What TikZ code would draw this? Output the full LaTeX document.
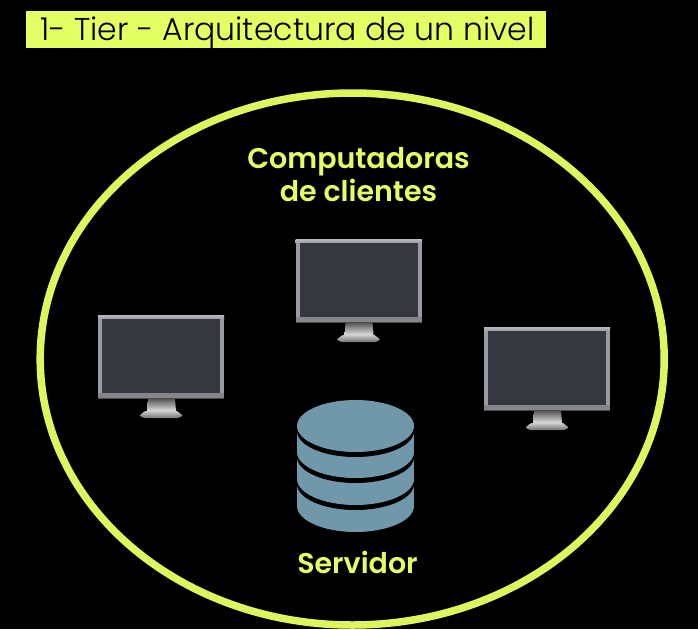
\documentclass[tikz,border=0pt]{standalone}
\usepackage{fontspec}
\setmainfont{Poppins}
\newfontfamily\titlefont{Poppins Light}
\newfontfamily\labelfont{Poppins SemiBold}
\definecolor{lime}{HTML}{E3FF63}
\definecolor{ringlime}{HTML}{DDF65E}
\definecolor{dbblue}{HTML}{7197AB}
\definecolor{screengray}{HTML}{36383F}
\definecolor{silvertop}{HTML}{B9B9C0}
\definecolor{silverside}{HTML}{9A9AA2}
\definecolor{silverlow}{HTML}{85858B}
\tikzset{
  titlebox/.style={fill=lime,draw=none,anchor=west,minimum height=37pt,minimum width=520pt,inner sep=0pt},
  titletext/.style={text=black,font=\titlefont\fontsize{31.5}{34}\selectfont,anchor=base west,inner sep=0pt},
  limetext/.style={text=lime,font=\labelfont\fontsize{28.5}{32}\selectfont,inner sep=0pt,anchor=base},
  ring/.style={draw=ringlime,line width=7.5pt},
  pics/monitor/.style={code={
    \shade[top color=black!65!white,bottom color=black!12!white] (50,84) -- (77,84) -- (78,96) -- (49,96) -- cycle;
    \shade[top color=black!20!white,bottom color=black!55!white] (47,96) -- (79,96) -- (84,100) -- (84,101) [rounded corners=1pt] -- (80,103) -- (46,103) -- (42,101) -- (42,100) -- cycle;
    \fill[silverside] (0,0) rectangle (126,84);
    \shade[top color=silvertop,bottom color=silverside] (0,0) rectangle (126,4);
    \fill[silverlow] (0,78) rectangle (126,83);
    \fill[black!70!white] (0,83) rectangle (126,84);
    \fill[screengray] (4,4) rectangle (122,78);
  }}
}
\begin{document}
\begin{tikzpicture}[x=1pt,y=-1pt]
  \useasboundingbox (0,0) rectangle (698,629);
  \fill[black] (0,0) rectangle (698,629);
  \draw[ring] (352.2,359) ellipse [x radius=312,y radius=266];
  \node[titlebox] (titlebg) at (26,29.5) {};
  \node[titletext] (title) at (40,40.5) {1- Tier - Arquitectura de un nivel};
  \node[limetext] (clientsA) at (358.5,168.5) {Computadoras};
  \node[limetext] (clientsB) at (358.5,201.5) {de clientes};
  \node[limetext] (server) at (357.5,573) {Servidor};
  \pic at (295.5,239) {monitor};
  \pic at (98,315) {monitor};
  \pic at (484,327) {monitor};
  % database
  \fill[dbblue] (297,426) rectangle (414,506);
  \fill[dbblue] (355.5,506) ellipse [x radius=58.5,y radius=26];
  \fill[black] (355.5,484) ellipse [x radius=58.5,y radius=26];
  \fill[dbblue] (355.5,479) ellipse [x radius=58.5,y radius=26];
  \fill[black] (355.5,457) ellipse [x radius=58.5,y radius=26];
  \fill[dbblue] (355.5,452) ellipse [x radius=58.5,y radius=26];
  \fill[black] (355.5,431) ellipse [x radius=58.5,y radius=26];
  \fill[dbblue] (355.5,426) ellipse [x radius=58.5,y radius=26];
\end{tikzpicture}
\end{document}
